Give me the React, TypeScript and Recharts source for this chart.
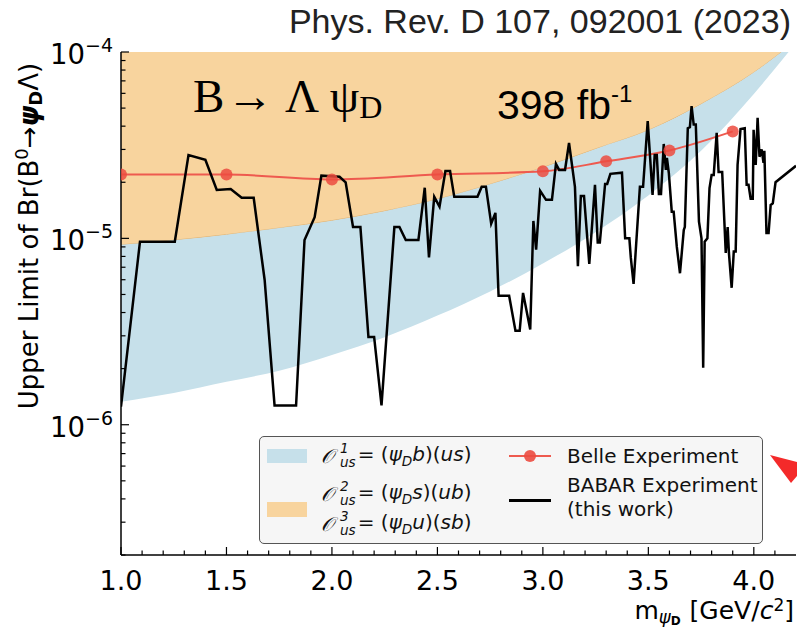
import React from 'react';
import { ComposedChart, Area, Line, XAxis, YAxis } from 'recharts';

// theory bands (sampled along the mass axis)
const bandX = [1.0, 1.25, 1.5, 1.75, 2.0, 2.25, 2.5, 2.75, 3.0, 3.25, 3.5, 3.75, 4.0, 4.2];
const o1Low = [1.33e-6, 1.48e-6, 1.7e-6, 1.95e-6, 2.37e-6, 2.95e-6, 3.85e-6, 5.19e-6, 7.33e-6, 1.08e-5, 1.7e-5, 2.95e-5, 5.96e-5, 1.12e-4];
const o1High = [9.23e-6, 9.77e-6, 1.047e-5, 1.135e-5, 1.245e-5, 1.4e-5, 1.62e-5, 1.95e-5, 2.4e-5, 3.02e-5, 3.8e-5, 5.25e-5, 7.76e-5, 1.15e-4];
const o23Top = 1e-3; // upper edge sits above the frame

// Belle
const belleMass = [1.0, 1.5, 2.0, 2.5, 3.0, 3.3, 3.6, 3.9];
const belleLimit = [2.2e-5, 2.2e-5, 2.07e-5, 2.2e-5, 2.29e-5, 2.59e-5, 2.96e-5, 3.75e-5];

// BABAR (this work)
const babarMass = [
  1.0, 1.09, 1.255, 1.32, 1.4, 1.454, 1.52, 1.572, 1.629, 1.681, 1.728, 1.83, 1.87, 1.918, 1.95,
  2.036, 2.065, 2.1, 2.135, 2.173, 2.2, 2.235, 2.296, 2.32, 2.35, 2.41, 2.44, 2.46, 2.485, 2.51,
  2.538, 2.56, 2.58, 2.69, 2.71, 2.73, 2.755, 2.775, 2.79, 2.84, 2.87, 2.89, 2.906, 2.94, 2.955,
  2.968, 2.987, 3.015, 3.043, 3.062, 3.077, 3.105, 3.124, 3.152, 3.166, 3.18, 3.195, 3.22, 3.247,
  3.26, 3.27, 3.295, 3.305, 3.32, 3.375, 3.39, 3.41, 3.417, 3.43, 3.46, 3.475, 3.497, 3.52, 3.53,
  3.54, 3.55, 3.56, 3.573, 3.583, 3.588, 3.597, 3.611, 3.62, 3.635, 3.65, 3.668, 3.673, 3.687,
  3.697, 3.705, 3.715, 3.725, 3.74, 3.752, 3.76, 3.767, 3.78, 3.79, 3.8, 3.81, 3.824, 3.833, 3.85,
  3.867, 3.876, 3.882, 3.895, 3.905, 3.914, 3.923, 3.937, 3.957, 3.966, 3.975, 3.985, 3.995, 3.999,
  4.009, 4.018, 4.027, 4.037, 4.046, 4.05, 4.06, 4.07, 4.08, 4.09, 4.103, 4.2,
];
const babarLimit = [
  1.25e-6, 9.6e-6, 9.6e-6, 2.8e-5, 2.64e-5, 1.82e-5, 1.84e-5, 1.65e-5, 1.65e-5, 5.98e-6, 1.27e-6, 1.27e-6, 9.8e-6, 1.3e-5, 2.17e-5,
  2.14e-5, 2.0e-5, 1.15e-5, 1.15e-5, 2.96e-6, 2.96e-6, 1.27e-6, 1.15e-5, 1.15e-5, 9.8e-6, 9.8e-6, 1.87e-5, 7.9e-6, 1.67e-5, 1.48e-5,
  2.3e-5, 2.3e-5, 1.67e-5, 1.67e-5, 1.89e-5, 1.89e-5, 1.2e-5, 1.37e-5, 4.92e-6, 4.92e-6, 3.19e-6, 3.19e-6, 5.1e-6, 3.24e-6, 1.24e-5,
  8.7e-6, 1.8e-5, 1.61e-5, 1.61e-5, 2.51e-5, 2.33e-5, 2.33e-5, 3.25e-5, 1.89e-5, 7.1e-6, 1.69e-5, 1.69e-5, 7.3e-6, 1.94e-5,
  9.5e-6, 9.5e-6, 1.96e-5, 1.96e-5, 2.22e-5, 2.25e-5, 1.0e-5, 1.0e-5, 7.85e-6, 5.7e-6, 1.89e-5, 1.89e-5, 4.26e-5, 1.71e-5, 2.8e-5,
  2.8e-5, 1.73e-5, 1.73e-5, 3.21e-5, 2.33e-5, 2.7e-5, 2.25e-5, 1.39e-5, 1.39e-5, 9.0e-6, 6.5e-6, 1.11e-5, 1.15e-5, 3.9e-5,
  3.95e-5, 5.13e-5, 4.08e-5, 4.08e-5, 1.23e-5, 1.0e-5, 2.02e-6, 9.6e-6, 1.0e-5, 1.86e-5, 2.19e-5, 2.19e-5, 3.68e-5, 2.27e-5, 2.27e-5,
  8.35e-6, 1.15e-5, 8.35e-6, 5.43e-6, 8.5e-6, 8.5e-6, 2.48e-5, 3.86e-5, 3.9e-5, 1.94e-5, 1.94e-5, 1.63e-5, 1.63e-5, 3.82e-5,
  2.48e-5, 4.43e-5, 2.74e-5, 3.0e-5, 2.54e-5, 2.95e-5, 1.07e-5, 1.07e-5, 1.51e-5, 1.54e-5, 2.0e-5, 2.45e-5,
];

const xMajor = [1.0, 1.5, 2.0, 2.5, 3.0, 3.5, 4.0];
const xTicks = [1.0, 1.1, 1.2, 1.3, 1.4, 1.5, 1.6, 1.7, 1.8, 1.9, 2.0, 2.1, 2.2, 2.3, 2.4, 2.5, 2.6, 2.7, 2.8, 2.9, 3.0, 3.1, 3.2, 3.3, 3.4, 3.5, 3.6, 3.7, 3.8, 3.9, 4.0, 4.1];
const yMajor = [1e-6, 1e-5, 1e-4];
const yTicks = [
  2e-7, 3e-7, 4e-7, 5e-7, 6e-7, 7e-7, 8e-7, 9e-7, 1e-6,
  2e-6, 3e-6, 4e-6, 5e-6, 6e-6, 7e-6, 8e-6, 9e-6, 1e-5,
  2e-5, 3e-5, 4e-5, 5e-5, 6e-5, 7e-5, 8e-5, 9e-5, 1e-4,
];

const bandData = bandX.map((m, i) => ({ m, o1: [o1Low[i], o1High[i]], o23: [o1High[i], o23Top] }));
const belleData = belleMass.map((m, i) => ({ m, v: belleLimit[i] }));
const babarData = babarMass.map((m, i) => ({ m, v: babarLimit[i] }));

const W = 797;
const H = 630;
const PLOT_LEFT = 121;
const PLOT_BOTTOM = 555;
const FONT = 'DejaVu Sans';

const XTick = (props: any) => {
  const { x, payload } = props;
  const v = payload.value;
  const major = xMajor.some((t) => Math.abs(t - v) < 1e-6);
  return (
    <g>
      <line x1={x} x2={x} y1={PLOT_BOTTOM} y2={PLOT_BOTTOM - (major ? 8 : 4.5)} stroke="#000" strokeWidth={1.2} />
      {major && (
        <text x={x} y={590} textAnchor="middle" fontSize={27} fontFamily={FONT} fill="#000">
          {v.toFixed(1)}
        </text>
      )}
    </g>
  );
};

const YTick = (props: any) => {
  const { y, payload } = props;
  const v = payload.value;
  const major = yMajor.some((t) => Math.abs(t - v) / t < 1e-6);
  const exp = Math.round(Math.log10(v));
  return (
    <g>
      <line x1={PLOT_LEFT} x2={PLOT_LEFT + (major ? 8 : 4.5)} y1={y} y2={y} stroke="#000" strokeWidth={1.2} />
      {major && (
        <text x={113} y={y + 12} textAnchor="end" fontSize={27.5} fontFamily={FONT} fill="#000">
          10<tspan dy={-12} fontSize={19}>{'\u2212' + Math.abs(exp)}</tspan>
        </text>
      )}
    </g>
  );
};

const MathO = ({ n }: { n: number }) => (
  <span style={{ display: 'inline-flex', alignItems: 'center' }}>
    <span style={{ fontStyle: 'italic', fontFamily: 'DejaVu Serif' }}>𝒪</span>
    <span style={{ display: 'inline-flex', flexDirection: 'column', fontSize: '0.68em', lineHeight: 1.0, fontStyle: 'italic', marginLeft: 6 }}>
      <span>{n}</span>
      <span>us</span>
    </span>
  </span>
);

const Op = ({ n, a, b }: { n: number; a: string; b: string }) => (
  <span style={{ whiteSpace: 'nowrap', display: 'inline-flex', alignItems: 'center' }}>
    <MathO n={n} />
    <span style={{ marginLeft: 2 }}>
      = (<i>ψ</i><sub style={{ fontSize: '0.68em', fontStyle: 'italic' }}>D</sub><i>{a}</i>)(<i>{b}</i>)
    </span>
  </span>
);

const LegendBox = () => (
  <div
    style={{
      position: 'absolute', left: 259, top: 436, width: 504, height: 108, boxSizing: 'border-box',
      background: '#f6f6f6', border: '1.5px solid #555', borderRadius: 5,
      fontFamily: FONT, fontSize: 20, color: '#111',
    }}
  >
    <div style={{ position: 'absolute', left: 7, top: 12, width: 40, height: 14, background: '#c6e0ea' }} />
    <div style={{ position: 'absolute', left: 7, top: 65, width: 40, height: 15, background: '#f8d49e' }} />
    <div style={{ position: 'absolute', left: 61, top: 5 }}><Op n={1} a="b" b="us" /></div>
    <div style={{ position: 'absolute', left: 61, top: 43 }}><Op n={2} a="s" b="ub" /></div>
    <div style={{ position: 'absolute', left: 61, top: 73 }}><Op n={3} a="u" b="sb" /></div>

    <div style={{ position: 'absolute', left: 249, top: 18, width: 42, height: 2, background: '#ee5a4f' }} />
    <div style={{ position: 'absolute', left: 264, top: 13, width: 12, height: 12, borderRadius: 6, background: '#ec4b40', opacity: 0.9 }} />
    <div style={{ position: 'absolute', left: 249, top: 62, width: 42, height: 2.5, background: '#000' }} />
    <div style={{ position: 'absolute', left: 307, top: 6, lineHeight: '26px' }}>Belle Experiment</div>
    <div style={{ position: 'absolute', left: 307, top: 36, lineHeight: '24px' }}>BABAR Experiment</div>
    <div style={{ position: 'absolute', left: 307, top: 60, lineHeight: '24px' }}>(this work)</div>
  </div>
);

export default function App() {
  return (
    <div style={{ position: 'absolute', left: 0, top: 0, width: W, height: H, background: '#fff' }}>
      <ComposedChart width={W} height={H} margin={{ top: 52, right: 1, left: 0, bottom: 0 }}>
        <XAxis
          dataKey="m"
          type="number"
          domain={[1, 4.2]}
          ticks={xTicks}
          interval={0}
          allowDataOverflow
          height={75}
          tickLine={false}
          axisLine={{ stroke: '#000', strokeWidth: 1.5 }}
          tick={<XTick />}
        />
        <XAxis xAxisId="top" orientation="top" type="number" dataKey="m" domain={[1, 4.2]} height={0} tick={false} tickLine={false} axisLine={{ stroke: '#222', strokeWidth: 1.2 }} />
        <YAxis
          type="number"
          scale="log"
          domain={[2e-7, 1e-4]}
          ticks={yTicks}
          interval={0}
          allowDataOverflow
          width={PLOT_LEFT}
          tickLine={false}
          axisLine={{ stroke: '#000', strokeWidth: 1.5 }}
          tick={<YTick />}
        />
        <YAxis yAxisId="right" orientation="right" type="number" domain={[0, 1]} width={0} tick={false} tickLine={false} axisLine={{ stroke: '#999', strokeWidth: 1.2 }} />

        <Area data={bandData} dataKey="o23" type="monotone" fill="#f8d49e" fillOpacity={1} stroke="#e2b677" strokeWidth={1} isAnimationActive={false} />
        <Area data={bandData} dataKey="o1" type="monotone" fill="#c6e0ea" fillOpacity={1} stroke="none" isAnimationActive={false} />
        <Line
          data={belleData}
          dataKey="v"
          type="monotone"
          stroke="#ee5a4f"
          strokeWidth={2}
          dot={{ r: 6, fill: '#ec4b40', fillOpacity: 0.85, stroke: 'none' }}
          isAnimationActive={false}
        />
        <Line data={babarData} dataKey="v" type="linear" stroke="#000" strokeWidth={2.5} dot={false} isAnimationActive={false} />
      </ComposedChart>

      <svg width={W} height={H} style={{ position: 'absolute', left: 0, top: 0, pointerEvents: 'none' }}>
        <text x={791} y={33} textAnchor="end" fontFamily="Liberation Sans" fontSize={34} fill="#222">
          Phys. Rev. D 107, 092001 (2023)
        </text>
        <text x={193} y={112} fontFamily="Liberation Serif" fontSize={47} fill="#000">
          B<tspan dx={2}>→</tspan> Λ ψ<tspan fontSize={32} dy={6}>D</tspan>
        </text>
        <text x={497} y={119} fontFamily="Liberation Sans" fontSize={41} fill="#000">
          398 fb<tspan fontSize={24} dy={-17}>-1</tspan>
        </text>
        <text transform="translate(38,236) rotate(-90)" textAnchor="middle" fontFamily={FONT} fontSize={26} fill="#000">
          Upper Limit of Br(B<tspan dy={-10} fontSize={18}>0</tspan>
          <tspan dy={10}>→</tspan>
          <tspan fontWeight="bold" fontStyle="italic">ψ</tspan>
          <tspan fontWeight="bold" fontSize={18} dy={4}>D</tspan>
          <tspan dy={-4}>Λ)</tspan>
        </text>
        <text x={794} y={619} textAnchor="end" fontFamily={FONT} fontSize={25} fill="#000">
          m<tspan fontStyle="italic" fontSize={18} dy={4}>ψ</tspan>
          <tspan fontWeight="bold" fontSize={12} dy={2}>D</tspan>
          <tspan dy={-6} dx={9}>[GeV/</tspan>
          <tspan fontStyle="italic">c</tspan>
          <tspan fontSize={17} dy={-8}>2</tspan>
          <tspan dy={8}>]</tspan>
        </text>
        <polygon points="770,455 797,462 797,476 791,483" fill="#f42a2a" />
      </svg>

      <LegendBox />
    </div>
  );
}
